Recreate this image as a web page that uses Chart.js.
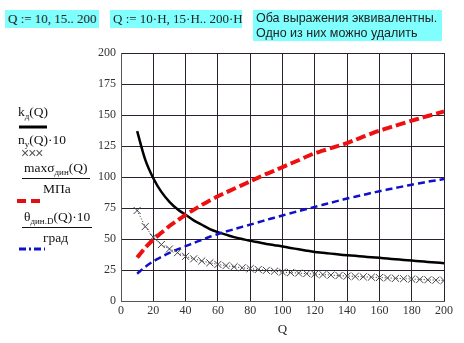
<!DOCTYPE html>
<html>
<head>
<meta charset="utf-8">
<script src="https://cdn.jsdelivr.net/npm/chart.js@4"></script>
<style>
    body { margin: 0; background: #fff; }
    #wrap { position: relative; width: 464px; height: 343px; overflow: hidden; }
    canvas { position: absolute; left: 0; top: 0; }
    .box { position: absolute; background: #80ffff; font-family: "Liberation Serif", serif; font-size: 13px; color: #222; white-space: nowrap; }
    .sans { font-family: "Liberation Sans", Arial, sans-serif; font-size: 12.5px; line-height: 15px; }
    .lg { position: absolute; font-family: "Liberation Serif", serif; font-size: 13.5px; line-height: 16px; color: #111; white-space: nowrap; }
    .lg sub { font-size: 9px; line-height: 0; vertical-align: -3px; }
    .frac { border-bottom: 1px solid #111; padding: 0 2px 2px 2px; }
    svg { position: absolute; }
</style>
</head>
<body>
<div id="wrap">
    <canvas id="chart" width="464" height="343"></canvas>

    <div class="box" style="left:5px;top:10px;width:94px;height:18px;line-height:18px;padding-left:3px;box-sizing:border-box;">Q := 10, 15.. 200</div>
    <div class="box" style="left:110px;top:10px;width:132px;height:18px;line-height:18px;padding-left:3px;box-sizing:border-box;">Q := 10·H, 15·H.. 200·H</div>
    <div class="box sans" style="left:253px;top:10px;width:189px;height:31px;padding:1px 0 0 3px;box-sizing:border-box;">Оба выражения эквивалентны.<br>Одно из них можно удалить</div>

    <div class="lg" style="left:18px;top:104px;">k<sub>д</sub>(Q)</div>
    <svg style="left:18px;top:124px;" width="30" height="6"><line x1="1" y1="3" x2="29" y2="3" stroke="#000" stroke-width="3"/></svg>
    <div class="lg" style="left:18px;top:132px;">n<sub>y</sub>(Q)·10</div>
    <div class="lg" style="left:21px;top:145px;font-family:'Liberation Sans',sans-serif;font-size:14px;letter-spacing:-1px;color:#555;">×××</div>
    <div class="lg frac" style="left:22px;top:160px;">maxσ<sub>дин</sub>(Q)</div>
    <div class="lg" style="left:43px;top:181px;">МПа</div>
    <svg style="left:16px;top:197px;" width="30" height="8"><line x1="1" y1="4" x2="29" y2="4" stroke="#e01010" stroke-width="4" stroke-dasharray="9,5"/></svg>
    <div class="lg frac" style="left:22px;top:209px;">θ<sub>дин.D</sub>(Q)·10</div>
    <div class="lg" style="left:43px;top:230px;">град</div>
    <svg style="left:18px;top:246px;" width="28" height="6"><line x1="1" y1="3" x2="27" y2="3" stroke="#1010cc" stroke-width="3" stroke-dasharray="7,3,2,3"/></svg>
</div>

<script>
// --- DATA ---
const qValues = [10, 15, 20, 25, 30, 35, 40, 45, 50, 55, 60, 65, 70, 75, 80, 85, 90, 95, 100,
    105, 110, 115, 120, 125, 130, 135, 140, 145, 150, 155, 160, 165, 170, 175, 180, 185, 190, 195, 200];

const kd = [137, 114, 99, 88, 80, 74, 69.5, 65, 61.5, 58, 55.5, 53.5, 51.5, 50, 48.5, 47.3, 46, 45, 44,
    42.8, 41.7, 40.6, 39.6, 38.9, 38.2, 37.5, 36.9, 36.4, 35.8, 35.3, 34.8, 34.2, 33.7, 33.1, 32.6, 32.1, 31.5, 31, 30.5];

const ny10 = [73, 60, 51.5, 45.5, 42, 39, 36, 34, 32.3, 30.8, 29.5, 28.5, 27.6, 26.8, 26.1, 25.4, 24.7, 24, 23.3,
    22.9, 22.5, 22.1, 21.7, 21.3, 20.9, 20.5, 20.1, 19.8, 19.5, 19.2, 18.9, 18.6, 18.3, 18, 17.7, 17.4, 17.1, 16.8, 16.5];

const sigmaMax = [35, 43, 49.5, 55, 60.5, 65, 69.5, 73.5, 77.5, 81, 84.5, 87.5, 90.5, 93.5, 96.5, 99.5, 102.5, 105, 108,
    110.8, 113.5, 116.5, 119.2, 121.2, 123.3, 125.3, 127.4, 129.9, 132.5, 135, 137.3, 139.4, 141.4, 143.4, 145.4, 147.3, 149.2, 151, 152.9];

const theta10 = [22, 27.5, 32, 35.5, 38.8, 41.6, 44.2, 46.8, 49.3, 51.8, 54, 56, 57.9, 59.8, 61.6, 63.5, 65.4, 67.2, 69,
    70.8, 72.5, 74.2, 75.9, 77.6, 79.3, 81, 82.6, 84.1, 85.6, 87.1, 88.5, 89.9, 91.2, 92.5, 93.8, 95, 96.2, 97.3, 98.4];

const xTicks = { min: 0, max: 200, step: 20 };
const yTicks = { min: 0, max: 200, step: 25 };

const toPoints = arr => arr.map((v, i) => ({ x: qValues[i], y: v }));

// --- CHART ---
const tickFont = { family: 'Liberation Serif', size: 12 };

new Chart(document.getElementById('chart'), {
    type: 'line',
    data: {
        datasets: [
            { data: toPoints(ny10), borderColor: '#222', borderWidth: 1, borderDash: [1, 2], tension: 0,
              pointStyle: 'crossRot', pointRadius: 5, pointBorderColor: '#444', pointBorderWidth: 1 },
            { data: toPoints(theta10), borderColor: '#1010cc', borderWidth: 2.5, borderDash: [7, 4], tension: 0.3, pointRadius: 0 },
            { data: toPoints(sigmaMax), borderColor: '#ee1010', borderWidth: 4, borderDash: [10, 4], tension: 0.3, pointRadius: 0 },
            { data: toPoints(kd), borderColor: '#000', borderWidth: 2.5, tension: 0.3, pointRadius: 0 }
        ]
    },
    options: {
        responsive: false,
        animation: false,
        layout: { padding: { top: 53, right: 20, bottom: 0, left: 0 } },
        plugins: { legend: { display: false }, tooltip: { enabled: false } },
        scales: {
            x: {
                type: 'linear', min: xTicks.min, max: xTicks.max,
                afterFit: s => { s.height = 42; },
                grid: { color: '#2a2030', lineWidth: 1, drawTicks: false },
                border: { color: '#555', width: 1 },
                ticks: { stepSize: xTicks.step, padding: 3, color: '#333', font: tickFont, maxRotation: 0 },
                title: { display: true, text: 'Q', color: '#222', font: { family: 'Liberation Serif', size: 13 }, padding: { top: 0, bottom: 6 } }
            },
            y: {
                min: yTicks.min, max: yTicks.max,
                afterFit: s => { s.width = 121; },
                grid: { color: '#2a2030', lineWidth: 1, drawTicks: false },
                border: { color: '#555', width: 1 },
                ticks: { stepSize: yTicks.step, padding: 5, color: '#333', font: tickFont }
            }
        }
    }
});
</script>
</body>
</html>
